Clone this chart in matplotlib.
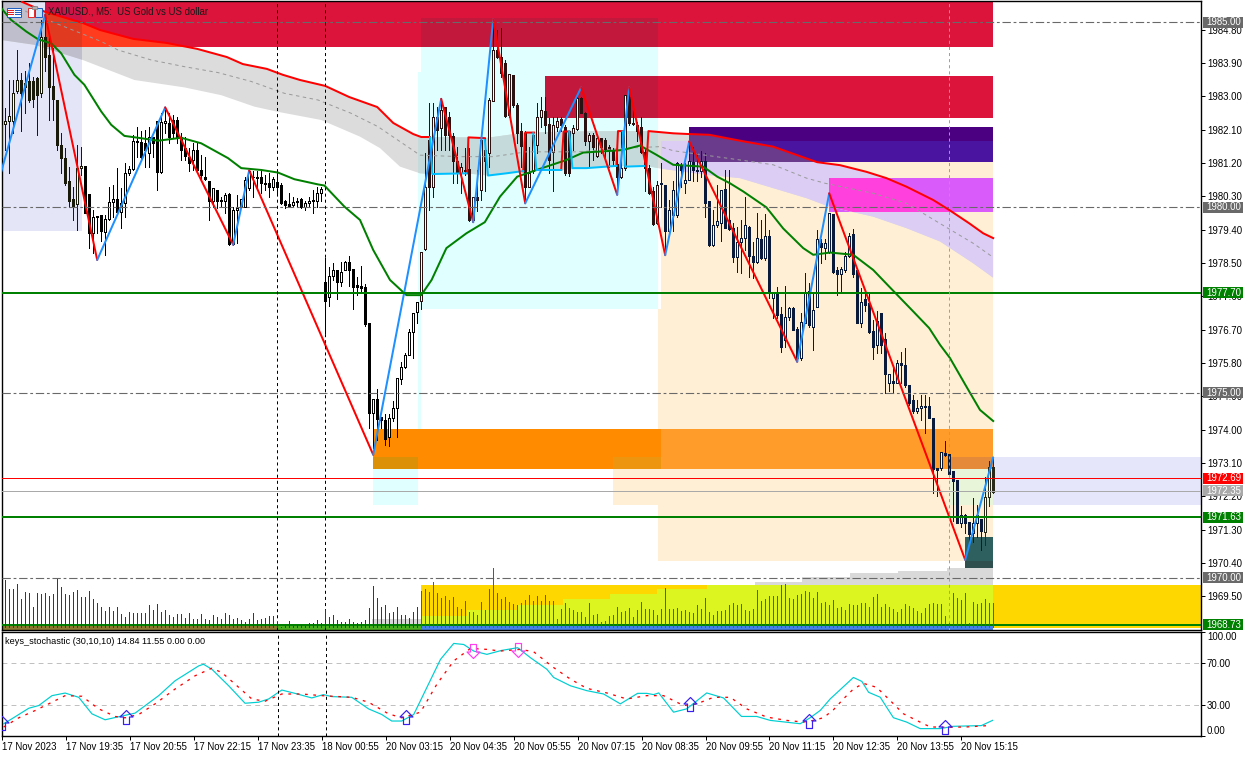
import numpy as np
import matplotlib
matplotlib.use("Agg")
import matplotlib.pyplot as plt
from matplotlib.patches import Rectangle
from matplotlib.path import Path

plt.rcParams['font.family'] = ['Liberation Sans', 'DejaVu Sans']
plt.rcParams['lines.scale_dashes'] = False

# ---------- candles ----------
opens = [1982.22,1982.25,1982.32,1982.32,1983.13,1983.44,1983.35,1983.41,1983.40,1983.49,
1983.10,1984.61,1984.11,1983.28,1982.90,1981.69,1981.33,1980.70,1980.22,1980.09,
1981.06,1981.12,1980.35,1979.32,1979.77,1979.80,1979.33,1979.68,1980.14,1980.22,
1979.87,1980.11,1980.94,1981.04,1981.79,1981.76,1981.73,1981.46,1981.91,1982.32,
1980.95,1982.27,1982.27,1982.36,1982.36,1981.91,1981.59,1981.37,1981.28,1981.55,
1981.01,1980.83,1980.71,1980.16,1980.47,1980.20,1980.16,1980.35,1979.01,1979.93,
1980.00,1980.02,1980.52,1980.83,1980.83,1980.83,1980.67,1980.65,1980.56,1980.68,
1980.60,1980.16,1980.08,1980.07,1980.14,1980.22,1980.02,1980.11,1980.20,1980.16,
1980.40,
1977.99,1977.59,1978.15,1978.31,1977.99,1978.31,1978.52,1978.34,1977.90,1977.87,
1977.84,1976.87,1974.44,1974.82,1974.33,1974.26,1973.79,1974.30,1974.58,1975.36,
1975.68,1976.02,1976.63,1977.18,1977.48,
1978.87,1981.82,1980.56,1982.43,1982.14,1982.72,1982.45,1981.93,1981.24,1980.92,
1981.01,1981.04,1979.66,1980.27,1980.47,1981.55,1981.46,1982.86,1984.25,1984.07,
1983.89,1982.50,1983.58,1982.77,1982.06,1982.00,1980.56,1980.97,1981.68,1982.45,
1982.61,1982.24,1981.50,1982.16,1982.39,1982.18,1982.05,1982.00,1982.11,1982.96,
1982.54,1981.79,1981.95,1981.40,1981.87,1981.82,1981.64,1981.55,1981.17,1980.81,
1981.06,1982.99,1982.29,1982.22,1982.16,1981.50,1981.06,1980.43,1979.57,1980.62,
1980.60,1979.35,1979.80,1979.80,1981.15,1980.65,1980.74,1981.22,1981.01,1980.97,
1981.24,1980.16,1978.99,1979.53,1979.59,1980.50,1979.66,1979.43,1978.65,1979.07,
1979.17,1979.48,1978.69,1978.53,1979.14,1978.63,1979.23,1977.56,1977.68,1977.11,
1976.42,1977.05,1977.27,1976.71,1975.93,1976.87,1977.75,1976.78,1977.32,1979.03,
1978.90,1978.80,1979.81,1978.31,1978.20,1978.31,1978.69,1979.28,1978.31,1976.89,
1977.53,1977.41,1976.65,1976.29,1977.14,1976.44,1975.25,1975.31,1975.27,1975.79,
1975.75,1975.20,1974.80,1974.49,1974.58,1974.64,1974.64,1974.30,1972.95,1972.95,
1973.36,1973.33,1972.87,1972.64,1971.49,1971.69,1971.50,1971.20,1971.47,1971.59,1971.22,1972.19,1972.98]

closes = [1981.37,1982.32,1982.47,1983.10,1983.44,1983.10,1983.24,1982.90,1982.92,1983.04,
1984.61,1984.05,1983.26,1982.92,1981.69,1981.32,1980.65,1980.16,1980.04,1981.06,
1981.13,1979.84,1979.32,1979.73,1979.73,1979.35,1979.69,1980.14,1980.22,1979.87,
1980.11,1980.94,1981.04,1981.79,1981.76,1981.37,1981.55,1981.91,1981.75,1980.95,
1982.30,1982.33,1981.91,1982.00,1981.91,1981.55,1981.39,1981.19,1981.55,1981.01,
1980.88,1980.76,1980.16,1980.52,1980.16,1980.16,1980.34,1979.01,1979.93,1979.98,
1980.22,1980.74,1980.97,1980.81,1980.78,1980.65,1980.62,1980.56,1980.76,1980.56,
1980.11,1980.07,1980.04,1980.14,1980.18,1980.02,1980.11,1980.16,1980.16,1980.40,
1980.49,
1977.48,1978.15,1978.31,1977.99,1978.25,1978.52,1978.31,1977.86,1977.86,1977.83,
1976.85,1974.44,1974.82,1974.29,1974.26,1973.75,1974.30,1974.58,1975.38,1975.68,
1976.02,1976.63,1977.14,1977.44,1978.80,
1980.56,1980.56,1982.45,1982.09,1982.63,1981.95,1981.95,1981.24,1980.92,1981.10,
1980.97,1979.66,1980.27,1980.20,1981.82,1981.24,1982.90,1984.25,1984.07,1983.62,
1982.47,1983.60,1982.77,1982.00,1981.67,1980.56,1980.94,1981.96,1982.45,1982.63,
1982.22,1981.28,1982.22,1982.33,1982.22,1980.94,1980.92,1982.14,1982.95,1982.56,
1981.79,1981.95,1981.64,1981.87,1981.64,1981.58,1981.55,1981.28,1980.83,1981.06,
1983.04,1982.27,1982.24,1982.05,1981.50,1981.06,1980.40,1979.55,1980.61,1980.67,
1979.35,1979.93,1980.47,1981.19,1981.01,1980.74,1981.24,1981.01,1980.97,1981.24,
1980.11,1978.99,1979.53,1979.63,1980.47,1979.43,1979.41,1978.67,1979.07,1979.17,
1979.53,1978.69,1978.53,1979.17,1978.63,1979.23,1977.72,1977.72,1977.09,1976.24,
1977.05,1977.27,1976.69,1975.93,1976.90,1977.72,1976.83,1977.23,1979.14,1978.92,
1979.03,1979.86,1978.26,1978.20,1978.33,1978.69,1979.23,1978.19,1976.89,1977.44,
1977.37,1976.63,1976.24,1976.92,1976.29,1975.50,1975.49,1975.25,1975.81,1975.75,
1975.20,1974.71,1974.49,1974.58,1974.64,1974.60,1974.31,1972.93,1972.91,1973.39,
1973.32,1972.79,1972.62,1971.49,1971.69,1971.47,1971.18,1971.47,1971.69,1971.25,1972.19,1973.00,1972.32]

highs = [1982.68,1982.68,1983.44,1983.44,1984.25,1983.62,1983.67,1983.89,1983.53,1983.53,
1985.06,1985.20,1984.70,1984.30,1982.90,1982.00,1981.60,1981.10,1980.56,1981.69,
1981.64,1981.12,1980.35,1979.93,1979.77,1979.80,1979.80,1980.56,1980.60,1981.06,
1980.52,1981.19,1981.13,1981.96,1982.18,1982.05,1982.09,1982.18,1981.91,1982.32,
1982.54,1982.63,1982.54,1982.50,1982.45,1982.00,1981.91,1981.60,1981.73,1981.73,
1981.42,1981.37,1980.71,1980.52,1980.47,1980.29,1980.38,1980.38,1980.02,1980.34,
1980.22,1980.83,1981.01,1980.97,1980.97,1981.01,1980.88,1980.92,1980.83,1980.92,
1980.65,1980.20,1980.38,1980.29,1980.25,1980.25,1980.16,1980.29,1980.47,1980.56,
1980.56,
1978.62,1978.38,1978.49,1978.31,1978.52,1978.56,1978.69,1978.34,1978.13,1978.42,
1977.93,1976.87,1974.82,1975.10,1974.35,1974.42,1974.42,1974.77,1975.38,1975.82,
1976.08,1976.71,1977.14,1977.44,1978.80,
1981.46,1982.81,1982.81,1982.72,1982.95,1982.72,1982.58,1982.00,1981.64,1981.19,
1981.59,1981.59,1980.29,1981.00,1981.87,1981.87,1982.95,1985.06,1984.79,1984.84,
1983.98,1983.60,1983.58,1982.81,1982.27,1982.05,1981.64,1982.00,1982.81,1982.99,
1982.99,1982.40,1982.45,1982.45,1982.45,1982.22,1982.05,1982.22,1982.99,1982.99,
1982.58,1982.00,1982.00,1981.91,1981.87,1981.87,1981.69,1981.60,1981.64,1982.05,
1983.04,1983.26,1982.68,1982.30,1982.45,1981.60,1981.15,1980.56,1980.70,1981.19,
1980.60,1980.20,1980.70,1981.23,1981.19,1981.19,1981.73,1981.64,1981.46,1981.51,
1981.46,1980.16,1979.93,1980.61,1980.47,1981.01,1981.01,1979.57,1979.48,1979.66,
1980.27,1979.50,1979.07,1979.86,1979.66,1979.81,1979.39,1977.72,1977.86,1977.32,
1977.88,1977.32,1977.32,1976.78,1977.14,1978.24,1977.95,1977.68,1979.39,1979.14,
1979.14,1979.86,1979.81,1978.40,1978.40,1978.80,1979.30,1979.41,1978.31,1977.81,
1977.77,1977.72,1976.96,1977.19,1977.14,1976.60,1975.49,1975.66,1975.88,1976.10,
1976.19,1975.20,1974.93,1974.80,1974.93,1974.93,1974.89,1974.30,1972.95,1973.39,
1973.68,1973.33,1972.87,1972.64,1971.94,1971.71,1971.50,1972.15,1971.96,1971.59,1972.73,1973.14,1973.22]

lows = [1980.92,1981.55,1980.92,1982.00,1983.10,1982.05,1982.54,1982.85,1982.72,1981.96,
1982.99,1983.67,1982.36,1982.36,1981.55,1980.92,1980.60,1980.02,1979.66,1979.39,
1980.88,1979.84,1978.90,1978.76,1979.30,1979.08,1978.72,1979.66,1979.75,1979.84,
1979.44,1979.75,1980.88,1981.01,1981.37,1981.28,1981.10,1981.10,1981.37,1980.47,
1980.92,1982.00,1981.73,1981.86,1981.73,1981.28,1981.28,1980.97,1981.01,1980.92,
1980.74,1980.74,1979.66,1980.02,1979.98,1980.02,1979.84,1978.99,1978.99,1979.03,
1979.98,1980.02,1980.47,1980.29,1980.47,1980.38,1980.47,1980.29,1980.47,1980.34,
1980.09,1979.98,1980.00,1980.02,1980.02,1979.98,1979.93,1980.02,1979.84,1980.02,
1980.16,
1976.62,1977.35,1978.04,1977.53,1977.89,1978.31,1977.88,1977.26,1977.64,1977.68,
1976.80,1974.03,1973.50,1973.72,1974.03,1973.59,1973.56,1974.24,1973.81,1975.23,
1975.65,1976.02,1975.94,1976.89,1977.26,
1978.85,1979.93,1980.29,1981.55,1981.55,1981.55,1981.55,1980.65,1980.65,1980.38,
1980.88,1979.62,1979.62,1979.90,1980.20,1980.43,1981.10,1982.86,1984.03,1983.53,
1982.45,1982.45,1982.72,1981.73,1981.10,1980.20,1980.56,1980.92,1981.46,1982.18,
1982.00,1980.92,1980.43,1982.05,1982.05,1980.88,1980.86,1981.55,1982.09,1982.54,
1981.68,1981.10,1981.28,1981.37,1981.46,1981.37,1981.10,1981.15,1980.56,1980.78,
1981.01,1982.22,1982.22,1981.80,1981.46,1980.43,1980.36,1979.53,1979.55,1980.02,
1978.81,1979.30,1979.35,1979.75,1980.56,1980.38,1980.74,1980.70,1980.70,1980.83,
1979.75,1978.96,1978.96,1979.48,1979.10,1979.43,1979.39,1978.53,1978.26,1978.22,
1978.85,1978.13,1978.09,1978.49,1978.60,1978.58,1977.55,1977.00,1977.00,1976.10,
1976.24,1976.96,1976.69,1975.88,1975.88,1976.87,1976.78,1976.15,1977.32,1978.49,
1978.60,1978.76,1978.24,1977.63,1977.68,1978.26,1978.67,1978.13,1976.87,1976.76,
1977.19,1976.60,1975.90,1976.06,1976.06,1974.98,1975.05,1975.00,1975.25,1975.25,
1975.16,1974.67,1974.44,1974.44,1974.26,1973.90,1974.31,1972.28,1972.21,1972.91,
1973.29,1972.78,1971.52,1971.47,1971.36,1971.20,1970.97,1970.97,1971.11,1970.75,1970.89,1971.94,1972.28]

volumes = [100,144,116,116,132,86,109,106,64,104,102,104,96,102,147,122,102,99,109,114,
92,92,112,86,76,64,52,64,52,64,42,34,49,44,44,46,44,69,54,72,
49,54,39,32,42,42,29,44,26,26,42,26,24,39,32,26,44,39,26,30,
24,19,26,46,24,26,29,36,36,19,4,6,21,6,9,8,7,14,16,24,
14,54,34,39,24,17,19,26,19,16,17,24,59,126,89,64,69,44,49,62,
39,39,29,49,62,112,116,108,138,104,89,96,84,92,64,56,82,49,49,39,
77,54,116,179,106,86,92,77,72,69,74,84,99,82,96,82,99,82,82,27,
57,74,61,54,49,47,34,76,39,42,19,22,36,39,64,49,52,59,34,54,
77,56,56,54,39,56,119,56,58,60,52,54,49,44,69,56,91,49,39,52,
52,54,69,76,69,72,54,52,56,114,82,86,96,96,96,129,132,91,86,99,
102,111,109,91,107,76,79,69,84,59,62,54,71,69,69,74,76,62,92,102,
64,71,64,56,49,57,72,66,59,52,44,61,72,74,72,72,36,16,104,89,
84,106,14,79,71,74,87,74,76]

# ---------- price overlays (bar index, price) ----------
zigzag_i = [0,11,24,41,58,62,93,110,118,123,131,145,154,157,166,172,199,207,241,248]
zigzag_p = [1980.96,1985.20,1978.58,1982.70,1978.99,1981.00,1973.32,1982.93,1979.60,1985.08,
            1980.11,1983.24,1980.34,1983.24,1978.71,1981.78,1975.83,1980.38,1970.48,1973.25]

ma_i = [0,2.5,6.25,9.2,12.5,15,18.3,20.8,25,27.5,30.8,34.2,39.2,45,50,56.7,60,65,69.2,73.3,79.2,80.8,
        85.8,89.7,93,97.2,101.3,105,107.6,111.3,116.3,120.9,124.7,129,136.3,141.3,145.5,153,155.5,159.7,
        163.8,168,175.5,179,182.2,185.5,191.3,195.5,200.5,203,207.2,213,218,222,228,232,234.7,237.2,241.3,244.7,248]
ma_p = [1985.38,1985.06,1984.75,1984.54,1984.43,1984.16,1983.58,1983.31,1982.59,1982.23,1981.93,1981.88,1981.80,
        1981.88,1981.73,1981.33,1981.06,1981.01,1980.94,1980.76,1980.62,1980.59,
        1980.02,1979.66,1978.85,1978.04,1977.63,1977.63,1978.04,1978.90,1979.30,1979.60,1980.29,1980.83,1981.10,
        1981.28,1981.48,1981.53,1981.55,1981.67,1981.42,1981.15,1981.10,1980.83,1980.65,1980.43,1980.00,1979.43,
        1978.90,1978.72,1978.78,1978.72,1978.31,1977.86,1977.19,1976.74,1976.29,1975.93,1975.16,1974.53,1974.23]

# upper envelope pieces, NaN separates the broken parts
upper_i = [5.2,11,20.4,24.7,33,41.4,49,56.4,60.4,66.4,70.4,74.7,81,87,94,98,103,105,107.2,np.nan,
           116.5,116.8,120.9,np.nan,130.5,131,133.2,np.nan,140,140.6,142,np.nan,153.8,154.2,155.5,np.nan,
           161.3,161.8,168,171.9,177,184.7,193,199,204,209.7,216.3,221.3,226.3,233,237,242,245.5,248]
upper_p = [1985.55,1985.28,1984.98,1984.79,1984.55,1984.44,1984.28,1984.06,1983.87,1983.74,1983.58,1983.44,1983.28,
           1982.98,1982.71,1982.28,1981.98,1981.90,1981.90,np.nan,
           1980.92,1981.89,1981.87,np.nan,1980.97,1982.02,1982.02,np.nan,1981.01,1982.05,1982.05,np.nan,
           1981.12,1982.06,1982.06,np.nan,
           1981.12,1982.06,1982.00,1981.98,1981.96,1981.80,1981.64,1981.41,1981.22,1981.14,1980.96,1980.79,1980.56,
           1980.20,1979.93,1979.57,1979.30,1979.17]
lower_i = [107.2,107.8,116.3,np.nan,120.9,121.7,126.3,130.5,np.nan,133,133.8,140,np.nan,
           142,142.8,146.3,153.8,np.nan,155.4,156,161.3]
lower_p = [1981.89,1980.90,1980.92,np.nan,1981.82,1980.86,1980.92,1980.98,np.nan,1982.00,1981.01,1981.01,np.nan,
           1982.05,1981.06,1981.06,1981.12,np.nan,1982.05,1981.10,1981.12]

mid_i = [6,16.7,25,29.2,37.5,45.8,54.2,62.5,70.8,79.2,87.5,94.2,104.7,114.7,123,131.3,144,156.3,164.7,
         168,184.7,193,201.3,206,218,226.3,236,243,248]
mid_p = [1985.30,1984.84,1984.48,1984.25,1983.98,1983.80,1983.64,1983.40,1983.08,1982.90,1982.54,1982.18,1981.41,
         1981.37,1981.37,1981.50,1981.50,1981.60,1981.64,1981.53,1981.28,1981.15,1980.79,1980.65,1980.38,1980.11,
         1979.48,1979.03,1978.65]

band_top_i = [0,5.2,11,20.4,24.7,33,41.4,49,56.4,60.4,66.4,70.4,74.7,81,87,94,98,103,105,107.2,116.8,120.9,
              131,133.2,140.6,142,154.2,155.5,161.8,168,171.9,177,184.7,193,199,204,209.7,216.3,221.3,226.3,233,237,242,245.5,248]
band_top_p = [1985.60,1985.55,1985.28,1984.98,1984.79,1984.55,1984.44,1984.28,1984.06,1983.87,1983.74,1983.58,1983.44,
              1983.28,1982.98,1982.71,1982.28,1981.98,1981.90,1981.90,1981.89,1981.87,1982.02,1982.02,1982.05,1982.05,
              1982.06,1982.06,1982.06,1982.00,1981.98,1981.96,1981.80,1981.64,1981.41,1981.22,1981.14,1980.96,1980.79,
              1980.56,1980.20,1979.93,1979.57,1979.30,1979.17]
band_low_i = [0,8.3,20.4,33.3,45.8,55,63.3,69.2,80,89.7,94.7,99.7,104.7,107.8,116.3,121.7,130.5,140,146.3,153.8,161.3,
              164.7,176.3,184.7,193,201.3,207,218,226.3,234.7,243,248]
band_low_p = [1984.52,1984.39,1983.98,1983.44,1983.24,1983.03,1982.72,1982.58,1982.36,1981.91,1981.60,1981.10,1980.92,
              1980.90,1980.92,1980.86,1980.98,1981.01,1981.06,1981.12,1981.12,1981.05,1980.88,1980.79,1980.52,1980.25,
              1980.02,1979.75,1979.44,1979.08,1978.49,1978.10]

# ---------- zones: first bar, last bar, top price, bottom price, colour ----------
LEFT = 0.2
RIGHT = 299.95
zones = [
    (LEFT, 20.17, 1985.57, 1979.36, '#E4E6F8'),      # lavender left
    (104.9, 164.2, 1985.11, 1977.26, '#E0FFFF'),     # cyan
    (104.2, 104.9, 1983.66, 1974.02, '#E0FFFF'),
    (92.9, 104.2, 1973.26, 1971.97, '#E0FFFF'),
    (164.9, 248, 1981.79, 1970.45, '#FFEFD5'),       # peach
    (164.2, 164.9, 1977.26, 1970.45, '#FFEFD5'),
    (152.9, 164.9, 1973.26, 1971.97, '#FFEFD5'),
    (237, RIGHT, 1973.26, 1971.97, '#E6E6FA'),       # lavender right
    (237, 248, 1972.94, 1971.97, '#E8F5D8'),
    (10.9, 248, 1985.57, 1984.33, '#DC143C'),        # crimson
    (10.9, 20.17, 1985.57, 1984.33, '#CC1448'),
    (104.9, 164.2, 1985.11, 1984.33, '#C2183C'),
    (135.9, 248, 1983.55, 1982.41, '#DC143C'),
    (135.9, 164.2, 1983.55, 1982.41, '#C2183C'),
    (171.9, 248, 1982.17, 1981.79, '#4B0082'),       # indigo
    (171.9, 248, 1981.79, 1981.23, '#4A14A0'),
    (206.9, 248, 1980.79, 1979.88, '#D95CFA'),       # magenta
    (92.9, 248, 1974.02, 1972.94, '#FF8C00'),        # orange
    (92.9, 104.2, 1973.26, 1972.94, '#DC9008'),
    (152.9, 164.9, 1973.26, 1972.94, '#EE9510'),
    (164.9, 248, 1974.02, 1972.94, '#FF9C2A'),
    (237, 248, 1973.26, 1972.94, '#E58A38'),
    (241, 248, 1971.10, 1970.45, '#2F6060'),         # teal
    (241, 248, 1970.45, 1970.26, '#2F4F4F'),
    (241, 248, 1970.26, 1970.18, '#0E7070'),
    (104.9, RIGHT, 1969.80, 1968.64, '#FFD700'),     # gold
]
# band tint where it crosses a zone
band_tints = [
    (LEFT, 20.17, 1985.57, 1979.36, '#BEBECC'),
    (104.2, 164.2, 1985.11, 1977.26, '#C5DBDB'),
    (164.9, 248, 1981.79, 1970.45, '#DCCDF5'),
    (10.9, 248, 1985.57, 1984.33, '#FF3C1E'),
    (10.9, 20.17, 1985.57, 1984.33, '#E03A20'),
    (171.9, 248, 1982.17, 1981.23, '#6A3A8C'),
    (206.9, 248, 1980.79, 1979.88, '#FF40DC'),
]

yg_i = [104.9,116.4,128.9,140.4,152.2,164,176.4,248]
yg_top = [1968.97,1969.13,1969.27,1969.43,1969.56,1969.70,1969.80,1969.80]
gray_i = [188.4,200.2,212.2,224.2,236.4,248]
gray_top = [1969.89,1970.01,1970.12,1970.19,1970.26,1970.26]

dash_levels = [1985.00,1980.00,1975.00,1970.00]
green_levels = [1977.70,1971.63,1968.73]
bid_level = 1972.69
ask_level = 1972.35
price_ticks = [1984.80,1983.90,1983.00,1982.10,1981.20,1980.30,1979.40,1978.50,1977.60,1976.70,1975.80,
               1974.90,1974.00,1973.10,1972.20,1971.30,1970.40,1969.50]
vlines_black = [69,81]
vline_gray = 237

# ---------- stochastic ----------
stoch_i = [0.4,2.5,6.7,9.2,12.5,15.8,19.2,22.5,25.8,28.8,33.3,39.2,43.3,49.2,50.4,52.5,56.7,60.8,64.2,66.7,70,73.3,
           77.5,80.4,82.5,87.5,91.7,95,97.5,100,103,104.7,109.7,113,115.5,118,121.3,125,129,132.2,136.3,138,142.2,
           146.3,150.5,154.7,159,161.3,163,164.3,168,171.3,176.3,180.5,185,188.8,192.2,199.7,202.2,204.7,207.2,
           210.5,213,215.1,216.8,219.7,221.3,223,226.3,229.7,231.3,234.7,238,245,247.8]
stoch_v = [11.8,16.6,26.7,29.3,38.8,41.3,37.2,21.3,15.6,18.2,22,38.8,53.1,67.4,69,64.2,48.3,31.5,32.5,35.6,44.2,41,
           36.6,39.8,37.9,37.2,26.1,20.7,14.4,14.4,20.7,34.1,73.7,89,88,81.7,78.5,82.3,84.9,75.3,64.2,56.3,48.3,
           43.6,40.4,30.9,41,41,39.8,41.4,22.9,26.1,41.4,36.6,18.8,18.8,15,11.8,17.6,24.6,35.7,
           47.4,56.3,52.5,42,37.3,27.7,17.6,13.4,7.1,7.1,7.1,9.3,10,15]
signal_i = [0.4,4.2,8.3,12.5,15.8,20,24.2,28.3,30.8,34.2,38.3,43.3,48.3,52.5,55,58.3,62.5,65.8,70,75,80,87.5,91.7,
            96.7,100,104.7,108.8,113,117.2,121.3,124.7,129.7,133,138,142.2,146.3,151.3,156.3,161.3,165.5,170.5,
            173.8,178,182.2,186.3,191.3,196.3,200.5,203,205.5,208,210.5,213,215.5,218.8,222.2,225.5,228.8,232.2,
            237.2,241.3,246.7]
signal_v = [8.6,17.5,24.5,32.5,38.8,38.2,26.1,18.8,17.5,20.7,30.9,45.2,57.9,65.2,61,49.9,35.6,33.4,40.4,40.4,38.8,
            37.2,32.5,21.3,17.5,22.9,49.9,72.2,84.2,83.3,81.7,83.3,81,65.8,54.7,45.8,41.4,35.6,38.8,38.8,29.3,
            30.9,37.2,37.2,26.1,18.2,15,13.4,15,17.6,25.2,35.7,45.2,50.6,46.8,34.1,21.4,15,8.7,8.4,8.7,10]
up_i = [0,31,101,172,202,236]
up_v = [18.8,25.2,25.2,37.2,20.7,15]
down_i = [117.8,129]
down_v = [75.3,76.3]
stoch_ticks = [100,70,30,0]

time_labels = ['17 Nov 2023','17 Nov 19:35','17 Nov 20:55','17 Nov 22:15','17 Nov 23:35','18 Nov 00:55',
               '20 Nov 03:15','20 Nov 04:35','20 Nov 05:55','20 Nov 07:15','20 Nov 08:35','20 Nov 09:55',
               '20 Nov 11:15','20 Nov 12:35','20 Nov 13:55','20 Nov 15:15']
time_bars = [16*k for k in range(len(time_labels))]

assert len(opens)==len(closes)==len(highs)==len(lows)==249
assert len(volumes)==249

# ---------- layout ----------
W, H = 1252, 757
fig = plt.figure(figsize=(W/100, H/100), dpi=100, facecolor='white')
def box(l, t, r, b):
    return [l/W, 1-b/H, (r-l)/W, (b-t)/H]
PX = 0.72
FS = 6.9

ax = fig.add_axes(box(2, 1, 1201, 630))
ax.set_xlim(LEFT, RIGHT)
ax.set_ylim(1968.587, 1985.573)
axv = fig.add_axes(box(2, 568, 1201, 628), sharex=ax, zorder=3)
axv.patch.set_alpha(0)
axv.set_ylim(0, 180)
axv.axis('off')
axs = fig.add_axes(box(2, 632, 1201, 736))
axs.set_xlim(LEFT, RIGHT)
axs.set_ylim(0, 104/1.05)

for a in (ax, axs):
    for s in a.spines.values():
        s.set_linewidth(1.0)
        s.set_color('black')
    a.yaxis.tick_right()

# zones
for x0, x1, top, bot, col in zones:
    ax.add_patch(Rectangle((x0, bot), x1-x0, top-bot, fc=col, ec='none', zorder=1, antialiased=False))

# stepped bottom fills
ax.fill_between(yg_i, yg_top, 1968.71, step='post', color='#DCF520', lw=0, zorder=1.2)
ax.fill_between(gray_i, gray_top, 1969.80, step='post', color='#D9D9D9', lw=0, zorder=1.2)
ax.add_patch(Rectangle((92.7, 1968.75), 12.2, 0.14, fc='#D8D8D8', ec='none', zorder=1.2))
ax.add_patch(Rectangle((LEFT, 1968.60), 69, 0.12, fc='#8C7A30', ec='none', zorder=1.3))
ax.add_patch(Rectangle((69, 1968.60), 35.9, 0.12, fc='#4CAF20', ec='none', zorder=1.3))
ax.add_patch(Rectangle((104.9, 1968.60), 143.1, 0.12, fc='#4682E8', ec='none', zorder=1.3))

# envelope band
poly_x = list(band_top_i) + list(band_low_i)[::-1]
poly_y = list(band_top_p) + list(band_low_p)[::-1]
ax.fill(poly_x, poly_y, color='#DCDCDC', lw=0, zorder=1.5)
for x0, x1, top, bot, col in band_tints:
    patch = ax.fill(poly_x, poly_y, color=col, lw=0, zorder=1.6)[0]
    clip = Rectangle((x0, bot), x1-x0, top-bot, transform=ax.transData)
    patch.set_clip_path(clip)

# candles
idx = np.arange(len(opens))
o, c, h, l = map(np.array, (opens, closes, highs, lows))
def ink(i):
    if i <= 20: return '#1A1A0A'
    if 105 <= i <= 164: return '#2A1212'
    if 165 <= i <= 245: return '#0A1A3A'
    if i > 245: return '#2A2A1A'
    return '#000000'
cols = [ink(i) for i in idx]
ax.vlines(idx, l, h, colors=cols, lw=PX, zorder=4, antialiased=False)
tops = np.maximum(o, c)
bots = np.minimum(o, c)
faces = ['white' if c[i] >= o[i] else cols[i] for i in idx]
ax.bar(idx, tops-bots, bottom=bots, width=0.5, color=faces, edgecolor=cols, lw=PX, zorder=4.2, antialiased=False)

# lines
ax.plot(mid_i, mid_p, color='#9A9A9A', lw=PX, ls=(0, (2.5, 2.5)), zorder=4.5)
ax.plot(ma_i, ma_p, color='#008000', lw=2*PX, zorder=5)
ax.plot(upper_i, upper_p, color='#FF0000', lw=2*PX, zorder=5)
ax.plot(lower_i, lower_p, color='#00BFFF', lw=2*PX, zorder=5)
for k in range(len(zigzag_i)-1):
    col = '#1E90FF' if zigzag_p[k+1] > zigzag_p[k] else '#FF0000'
    ax.plot(zigzag_i[k:k+2], zigzag_p[k:k+2], color=col, lw=2*PX, zorder=5.5, solid_capstyle='round')

# levels
for y in dash_levels:
    ax.axhline(y, color='#696969', lw=PX*1.1, ls=(0, (6, 2, 2, 2)), zorder=6)
for y in green_levels:
    ax.axhline(y, color='#008000', lw=2*PX, zorder=6)
ax.axhline(bid_level, color='#FF0000', lw=PX, zorder=6)
ax.axhline(ask_level, color='#A9A9A9', lw=PX, zorder=6)
for v in vlines_black:
    for a in (ax, axs):
        a.axvline(v, color='black', lw=PX, ls=(0, (2.2, 2.2)), zorder=6)
ax.axvline(vline_gray, color='#A0A0A0', lw=PX, ls=(0, (2.2, 2.2)), zorder=6)

# volumes
vcols = ['#0B5A0B' if i < 105 else '#2A7F10' for i in idx]
axv.vlines(idx, 0, volumes, colors=vcols, lw=PX, antialiased=False)

# axis labels
ax.set_xticks([])
ax.set_yticks(price_ticks)
ax.set_yticklabels([f'{t:.2f}' for t in price_ticks], fontsize=FS)
ax.tick_params(axis='y', length=3, width=PX, pad=1.2, direction='out')

axs.set_yticks([t for t in stoch_ticks])
labs = axs.set_yticklabels([f'{t:.2f}' for t in stoch_ticks], fontsize=FS)
labs[0].set_va('top'); labs[-1].set_va('bottom')
axs.tick_params(axis='y', length=3, width=PX, pad=1.2, direction='out')
axs.set_xticks(time_bars)
tl = axs.set_xticklabels(time_labels, fontsize=FS, ha='left')
axs.tick_params(axis='x', length=3, width=PX, pad=1.5, direction='out')

# stochastic lines
axs.axhline(70, color='#C0C0C0', lw=PX, ls=(0, (3.5, 3)))
axs.axhline(30, color='#C0C0C0', lw=PX, ls=(0, (3.5, 3)))
axs.plot(stoch_i, stoch_v, color='#00CED1', lw=PX*1.2, zorder=4)
axs.plot(signal_i, signal_v, color='#FF0000', lw=PX*1.3, ls=(0, (2, 4)), zorder=4)
up_path = Path([(0,0),(6.5,-6.5),(3,-6.5),(3,-14),(-3,-14),(-3,-6.5),(-6.5,-6.5),(0,0)], closed=True)
dn_path = Path([(0,0),(6.5,6.5),(3,6.5),(3,14),(-3,14),(-3,6.5),(-6.5,6.5),(0,0)], closed=True)
axs.plot(up_i, up_v, ls='none', marker=up_path, ms=20.16, mfc='none', mec='#3A20F0', mew=PX*1.2, zorder=5)
axs.plot(down_i, down_v, ls='none', marker=dn_path, ms=20.16, mfc='none', mec='#FF40F0', mew=PX*1.2, zorder=5)

# chrome overlay in pixel coordinates
ov = fig.add_axes([0, 0, 1, 1], zorder=20)
ov.set_xlim(0, W); ov.set_ylim(H, 0); ov.axis('off'); ov.patch.set_alpha(0)
ov.text(47.5, 11.5, 'XAUUSD., M5:  US Gold vs US dollar', fontsize=FS, va='center', ha='left', color='#1A1A1A')
ov.text(5, 641, 'keys_stochastic (30,10,10) 14.84 11.55 0.00 0.00', fontsize=FS*0.96, va='center', ha='left', color='black')
ov.add_patch(Rectangle((6.5, 7.5), 14, 9, fc='#F4F8FF', ec='#2060C0', lw=PX))
for yy in (10, 12, 14):
    ov.plot([8, 13], [yy, yy], color='#E02020', lw=PX)
    ov.plot([15, 19.5], [yy, yy], color='#2060C0', lw=PX)
ov.add_patch(Rectangle((28, 8), 6, 8.5, fc='white', ec='#E03030', lw=PX))
ov.add_patch(Rectangle((35, 8), 6.5, 8.5, fc='#BFE0F8', ec='#2060C0', lw=PX))
ov.add_patch(Rectangle((32, 6), 5, 2.5, fc='#B0B0B0', ec='#808080', lw=PX*.7))

# price tags drawn over the scale
def tag(y, bg):
    py = H - ax.transData.transform((0, y))[1]
    ov.add_patch(Rectangle((1203, py-5.5), 40, 11, fc=bg, ec='none', zorder=5))
    ov.text(1206, py, f'{y:.2f}', fontsize=FS, color='white', va='center', ha='left', zorder=6)
for y in dash_levels:
    tag(y, '#696969')
for y in green_levels:
    tag(y, '#008000')
tag(bid_level, '#FF0000')
tag(ask_level, '#A9A9A9')

fig.savefig('out.png', dpi=100)
